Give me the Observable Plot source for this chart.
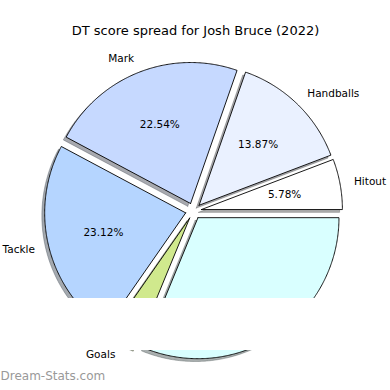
<!DOCTYPE html>
<html>
<head>
<meta charset="utf-8">
<script src="https://cdn.jsdelivr.net/npm/d3@7"></script>
<script src="https://cdn.jsdelivr.net/npm/@observablehq/plot@0.6"></script>
<style>
  html, body { margin: 0; padding: 0; background: #fff; }
  #chart { width: 390px; height: 390px; }
</style>
</head>
<body>
<div id="chart"></div>
<script>
// ---- data ----
const title = "DT score spread for Josh Bruce (2022)";
const labels = ["Hitout", "Handballs", "Mark", "Tackle", "Goals", "Kicks"];
const points = [10, 24, 39, 40, 6, 54];
const colors = ["#ffffff", "#eaf1ff", "#c6d9ff", "#b5d5ff", "#d0e98d", "#d9ffff"];
const hiddenPct = ["Goals", "Kicks"];
const watermark = "Dream-Stats.com";

// ---- layout (unit circle coordinates) ----
const W = 390, H = 390;
const R = 141;          // radius in px
const CX = 193, CY = 210.5;
const explode = 0.057;
const shadowOff = 0.02;

const total = d3.sum(points);
let acc = 0;
const slices = labels.map((label, i) => {
  const a0 = acc / total * 360;
  acc += points[i];
  const a1 = acc / total * 360;
  const m = (a0 + a1) / 2 * Math.PI / 180;
  return {label, value: points[i], color: colors[i], a0, a1, m,
          ox: explode * Math.cos(m), oy: explode * Math.sin(m),
          pct: (points[i] / total * 100).toFixed(2) + "%"};
});

function wedge(s, dx, dy) {
  const pts = [{x: s.ox + dx, y: s.oy + dy}];
  const n = Math.max(2, Math.ceil((s.a1 - s.a0) / 0.5));
  for (let k = 0; k <= n; k++) {
    const a = (s.a0 + (s.a1 - s.a0) * k / n) * Math.PI / 180;
    pts.push({x: s.ox + dx + Math.cos(a), y: s.oy + dy + Math.sin(a)});
  }
  pts.push({x: s.ox + dx, y: s.oy + dy});
  return pts;
}

const shadowMarks = slices.map(s => {
  const c = d3.rgb(s.color);
  const sc = d3.rgb(c.r * 0.3, c.g * 0.3, c.b * 0.3).formatHex();
  return Plot.line(wedge(s, -shadowOff, -shadowOff), {
    x: "x", y: "y", fill: sc, stroke: sc, fillOpacity: 0.45, strokeOpacity: 0.45, strokeWidth: 0.8
  });
});
const wedgeMarks = slices.map(s => Plot.line(wedge(s, 0, 0), {
  x: "x", y: "y", fill: s.color, stroke: "#000", strokeWidth: 0.9, strokeLinejoin: "miter"
}));

const labelData = slices.map(s => ({
  label: s.label,
  x: s.ox + 1.1 * Math.cos(s.m),
  y: s.oy + 1.1 * Math.sin(s.m),
  anchor: Math.cos(s.m) >= 0 ? "start" : "end"
}));
const pctData = slices.filter(s => !hiddenPct.includes(s.label)).map(s => ({
  text: s.pct,
  x: s.ox + 0.6 * Math.cos(s.m),
  y: s.oy + 0.6 * Math.sin(s.m)
}));

// white mask area seen in the reference
const mask = [{x1: (60 - CX) / R, x2: (330 - CX) / R, y1: (CY - 298) / R, y2: (CY - 350) / R}];

const font = "DejaVu Sans";
const chart = Plot.plot({
  width: W, height: H,
  margin: 0,
  style: {fontFamily: font, background: "#fff"},
  x: {domain: [-CX / R, (W - CX) / R], range: [0, W], axis: null},
  y: {domain: [CY / R, -(H - CY) / R], range: [0, H], axis: null},
  marks: [
    ...shadowMarks,
    ...wedgeMarks,
    Plot.text(pctData, {x: "x", y: "y", text: "text", fontSize: 10.5, fill: "#000"}),
    Plot.text(labelData.filter(d => d.anchor === "start"), {x: "x", y: "y", text: "label", textAnchor: "start", fontSize: 10.5, fill: "#000"}),
    Plot.text(labelData.filter(d => d.anchor === "end"), {x: "x", y: "y", text: "label", textAnchor: "end", fontSize: 10.5, fill: "#000"}),
    Plot.rect(mask, {x1: "x1", x2: "x2", y1: "y1", y2: "y2", fill: "#fff"}),
    Plot.text([title], {frameAnchor: "top", dy: 25, text: d => d, fontSize: 13, fill: "#000"}),
    Plot.text([watermark], {frameAnchor: "bottom-left", dx: 0, dy: -11, textAnchor: "start", text: d => d, fontSize: 12, fill: "#999", fontWeight: "normal"})
  ]
});
document.getElementById("chart").appendChild(chart);
</script>
</body>
</html>
